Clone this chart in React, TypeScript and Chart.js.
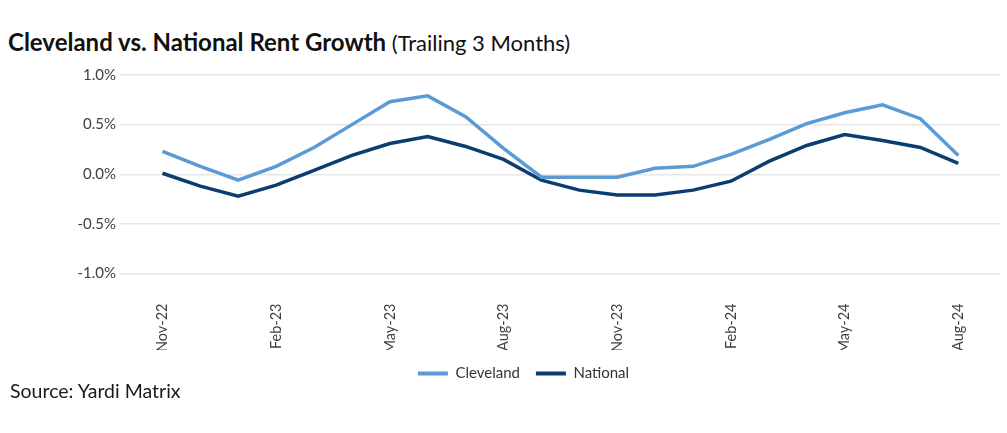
import React, { useEffect, useRef } from "react";
import { Chart, registerables } from "chart.js";

Chart.register(...registerables);

// Monthly trailing-3-month rent growth, Nov-22 through Aug-24 (percent)
const months = [
  "Nov-22", "Dec-22", "Jan-23", "Feb-23", "Mar-23", "Apr-23", "May-23", "Jun-23",
  "Jul-23", "Aug-23", "Sep-23", "Oct-23", "Nov-23", "Dec-23", "Jan-24", "Feb-24",
  "Mar-24", "Apr-24", "May-24", "Jun-24", "Jul-24", "Aug-24",
];
const cleveland = [
  0.23, 0.08, -0.06, 0.08, 0.27, 0.5, 0.73, 0.79, 0.58, 0.26, -0.03, -0.03,
  -0.03, 0.06, 0.08, 0.2, 0.35, 0.51, 0.62, 0.7, 0.56, 0.19,
];
const national = [
  0.01, -0.12, -0.22, -0.11, 0.04, 0.19, 0.31, 0.38, 0.28, 0.15, -0.06, -0.16,
  -0.21, -0.21, -0.16, -0.07, 0.13, 0.29, 0.4, 0.34, 0.27, 0.11,
];
const yTicks = [-1, -0.5, 0, 0.5, 1];
const labelEvery = 3;

const FONT = "Lato, 'Open Sans', sans-serif";
const CLEVELAND_COLOR = "#5b9bd5";
const NATIONAL_COLOR = "#0b3d70";

export default function App() {
  const canvasRef = useRef<HTMLCanvasElement | null>(null);

  useEffect(() => {
    const canvas = canvasRef.current;
    if (!canvas) return;
    const chart = new Chart(canvas, {
      type: "line",
      data: {
        datasets: [
          {
            label: "Cleveland",
            data: cleveland.map((v, i) => ({ x: i, y: v })),
            borderColor: CLEVELAND_COLOR,
            backgroundColor: CLEVELAND_COLOR,
            borderWidth: 3.5,
            pointRadius: 0,
            tension: 0,
          },
          {
            label: "National",
            data: national.map((v, i) => ({ x: i, y: v })),
            borderColor: NATIONAL_COLOR,
            backgroundColor: NATIONAL_COLOR,
            borderWidth: 3.5,
            pointRadius: 0,
            tension: 0,
          },
        ],
      },
      options: {
        animation: false,
        responsive: false,
        maintainAspectRatio: false,
        // left padding keeps the legend centred under the plot; the y axis fills the rest
        layout: { padding: { top: 20, right: 7, left: 47, bottom: 9 } },
        plugins: {
          tooltip: { enabled: false },
          legend: {
            position: "bottom",
            labels: {
              boxWidth: 30,
              boxHeight: 4,
              padding: 16,
              color: "#333333",
              font: { family: FONT, size: 15 },
              generateLabels: (c) =>
                c.data.datasets.map((ds, i) => ({
                  text: ds.label as string,
                  fillStyle: ds.borderColor as string,
                  strokeStyle: ds.borderColor as string,
                  lineWidth: 0,
                  fontColor: "#333333",
                  datasetIndex: i,
                  hidden: false,
                })),
            },
          },
        },
        scales: {
          x: {
            type: "linear",
            min: -1.12,
            max: months.length - 1 + 1.1,
            grid: { display: false, drawTicks: false },
            border: { display: false },
            afterBuildTicks: (scale) => {
              scale.ticks = months
                .map((_, i) => i)
                .filter((i) => i % labelEvery === 0)
                .map((i) => ({ value: i }));
            },
            afterFit: (scale) => {
              scale.height = 76.5;
            },
            ticks: {
              autoSkip: false,
              minRotation: 90,
              maxRotation: 90,
              padding: 30,
              color: "#404040",
              font: { family: FONT, size: 14.5 },
              callback: (value) => months[Number(value)] ?? "",
            },
          },
          y: {
            min: -1,
            max: 1,
            afterBuildTicks: (scale) => {
              scale.ticks = yTicks.map((v) => ({ value: v }));
            },
            afterFit: (scale) => {
              scale.width = 73;
            },
            grid: { color: "#e6e6e6", lineWidth: 1.5, drawTicks: false },
            border: { display: false },
            ticks: {
              padding: 4,
              color: "#404040",
              font: { family: FONT, size: 15 },
              callback: (value) => `${Number(value).toFixed(1)}%`,
            },
          },
        },
      },
    });
    return () => chart.destroy();
  }, []);

  return (
    <div
      style={{
        position: "absolute",
        left: 0,
        top: 0,
        width: 1007,
        height: 433,
        background: "#ffffff",
        fontFamily: FONT,
        overflow: "hidden",
      }}
    >
      <div
        style={{
          position: "absolute",
          left: 8,
          top: 27,
          whiteSpace: "nowrap",
          color: "#111111",
          lineHeight: "30px",
        }}
      >
        <span style={{ fontWeight: 700, fontSize: 24 }}>Cleveland vs. National Rent Growth</span>
        <span style={{ fontWeight: 400, fontSize: 22 }}> (Trailing 3 Months)</span>
      </div>
      <canvas
        ref={canvasRef}
        width={1007}
        height={345}
        style={{ position: "absolute", left: 0, top: 55, width: 1007, height: 345 }}
      />
      <div
        style={{
          position: "absolute",
          left: 10,
          top: 378,
          fontSize: 19.5,
          color: "#1a1a1a",
          whiteSpace: "nowrap",
          lineHeight: "26px",
        }}
      >
        Source: Yardi Matrix
      </div>
    </div>
  );
}
